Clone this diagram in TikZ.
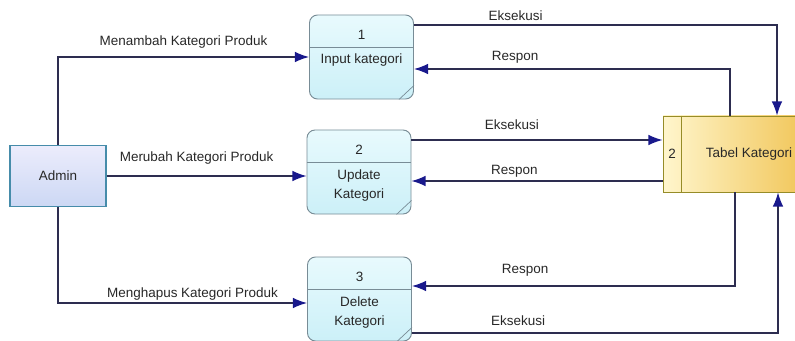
\documentclass[tikz,border=0pt]{standalone}
\usepackage{fontspec}
\setmainfont{Liberation Sans}
\usepackage{tikz}
\usetikzlibrary{arrows.meta}
\usetikzlibrary{positioning}
\usetikzlibrary{calc}

\definecolor{procline}{RGB}{120,140,150}
\definecolor{procA}{RGB}{232,250,253}
\definecolor{procB}{RGB}{204,240,248}
\definecolor{entline}{RGB}{70,140,170}
\definecolor{entA}{RGB}{236,236,252}
\definecolor{entB}{RGB}{204,216,244}
\definecolor{storeline}{RGB}{150,140,40}
\definecolor{storeA}{RGB}{255,246,205}
\definecolor{storeB}{RGB}{240,194,80}
\definecolor{flowline}{RGB}{45,45,80}
\definecolor{arrowblue}{RGB}{25,25,140}
\definecolor{txt}{RGB}{40,40,40}

\tikzset{
  proc/.style={draw=procline, line width=0.8pt, rounded corners=0.24cm, top color=procA, bottom color=procB, minimum width=3.12cm, minimum height=2.52cm},
  ent/.style={draw=entline, line width=1pt, top color=entA, bottom color=entB, minimum width=2.88cm, minimum height=1.83cm},
  dstore/.style={draw=storeline, line width=0.8pt, left color=storeA, right color=storeB, minimum width=4.59cm, minimum height=2.28cm},
  flow/.style={draw=flowline, line width=1.1pt, -{Latex[length=12pt,width=9pt,color=arrowblue]}},
  lbl/.style={text=txt, inner sep=1pt, text height=1.5ex, text depth=.25ex},
  ptext/.style={text=txt, align=center, inner sep=1pt}
}

\begin{document}
\begin{tikzpicture}[x=0.03cm, y=-0.03cm, font=\fontsize{11.5}{16}\selectfont]
\useasboundingbox (0,0) rectangle (795,340);

% external entity
\node (admin) at (58,176) [ent] {};
\node (admintxt) at (admin.center) [ptext] {Admin};

% processes
\node (p1) at (361.5,57) [proc] {};
\draw [procline, line width=0.8pt] ([yshift=-0.99cm]p1.north west) -- ([yshift=-0.99cm]p1.north east);
\draw [procline, line width=0.6pt] ([xshift=-0.45cm]p1.south east) -- ([yshift=0.42cm]p1.south east);
\node (p1num) at ([yshift=-0.6cm]p1.north) [ptext] {1};
\node (p1txt) at ([yshift=-1.35cm]p1.north) [ptext] {Input kategori};

\node (p2) at (359,172) [proc] {};
\draw [procline, line width=0.8pt] ([yshift=-0.99cm]p2.north west) -- ([yshift=-0.99cm]p2.north east);
\draw [procline, line width=0.6pt] ([xshift=-0.45cm]p2.south east) -- ([yshift=0.42cm]p2.south east);
\node (p2num) at ([yshift=-0.6cm]p2.north) [ptext] {2};
\node (p2txt) at ([yshift=-1.67cm]p2.north) [ptext] {Update\\Kategori};

\node (p3) at (359.5,299) [proc] {};
\draw [procline, line width=0.8pt] ([yshift=-0.99cm]p3.north west) -- ([yshift=-0.99cm]p3.north east);
\draw [procline, line width=0.6pt] ([xshift=-0.45cm]p3.south east) -- ([yshift=0.42cm]p3.south east);
\node (p3num) at ([yshift=-0.6cm]p3.north) [ptext] {3};
\node (p3txt) at ([yshift=-1.67cm]p3.north) [ptext] {Delete\\Kategori};

% data store
\node (store) at (739.5,154) [dstore] {};
\draw [storeline, line width=0.8pt] ([xshift=0.57cm]store.north west) -- ([xshift=0.57cm]store.south west);
\node (storeid) at (672,154) [ptext] {2};
\node (storetxt) at (749,154) [ptext] {Tabel Kategori};

% flows admin
\draw [flow] (admin.north) |- (p1.west) node [lbl, pos=0.75, above=6.8pt] {Menambah Kategori Produk};
\draw [flow] (admin.east) -- (admin.east -| p2.west) node [lbl, pos=0.45, above=9.4pt] {Merubah Kategori Produk};
\draw [flow] (admin.south) |- ([yshift=-0.12cm]p3.west) node [lbl, pos=0.77, above=1.7pt] {Menghapus Kategori Produk};

% flows store
\draw [flow] ([yshift=0.96cm]p1.east) -| ([xshift=1.125cm]store.north) node [lbl, pos=0.14, above=0.9pt] {Eksekusi};
\draw [flow] ([xshift=-0.285cm]store.north) |- ([yshift=-0.36cm]p1.east) node [lbl, pos=0.84, above=4.3pt] {Respon};
\draw [flow] ([yshift=0.96cm]p2.east) -- ([yshift=0.96cm]p2.east -| store.west) node [lbl, pos=0.4, above=6pt] {Eksekusi};
\draw [flow] ([yshift=-0.27cm]p2.east -| store.west) -- ([yshift=-0.27cm]p2.east) node [lbl, pos=0.59, above=2.6pt] {Respon};
\draw [flow] ([xshift=-0.135cm]store.south) |- ([yshift=0.39cm]p3.east) node [lbl, pos=0.825, above=7.7pt] {Respon};
\draw [flow] ([yshift=-1.02cm]p3.east) -| ([xshift=1.155cm]store.south) node [lbl, pos=0.145, above=3.4pt] {Eksekusi};
\end{tikzpicture}
\end{document}
